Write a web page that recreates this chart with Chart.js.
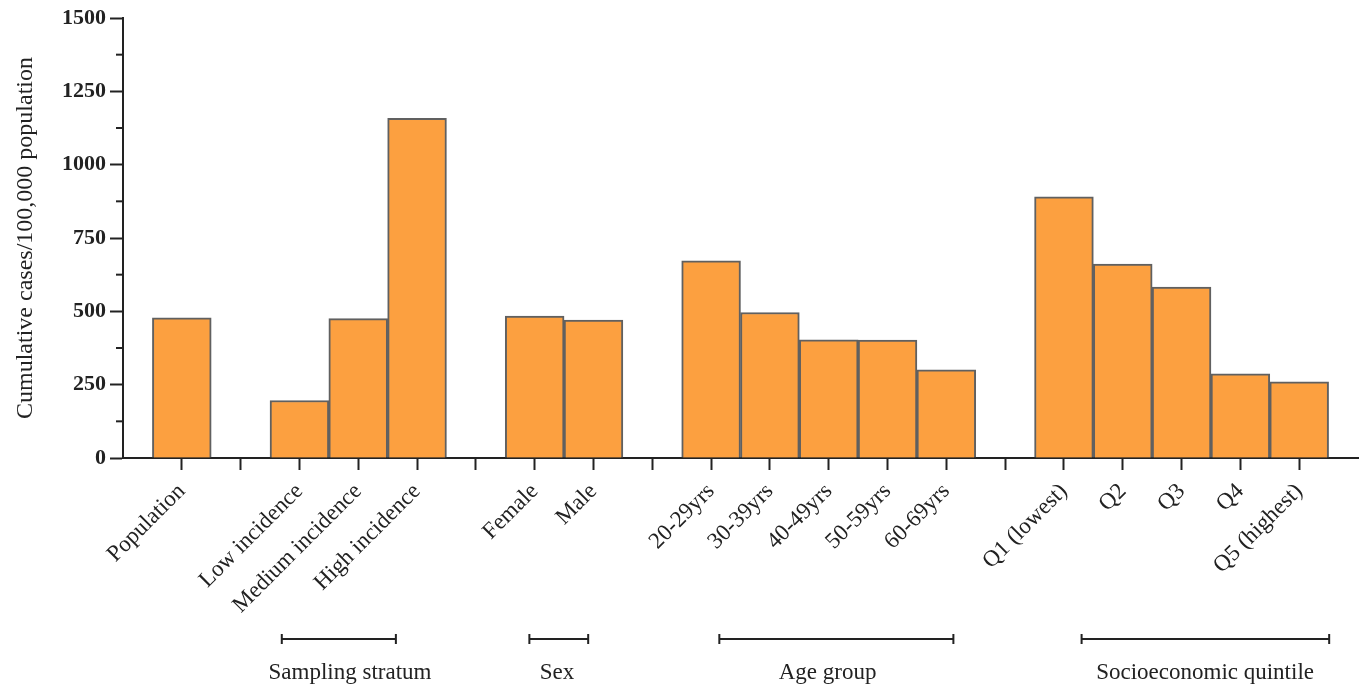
<!DOCTYPE html>
<html>
<head>
<meta charset="utf-8">
<script src="https://cdn.jsdelivr.net/npm/chart.js@4.4.1/dist/chart.umd.min.js"></script>
<style>
  html, body { margin: 0; padding: 0; background: #fff; }
  #wrap { width: 1363px; height: 687px; }
</style>
</head>
<body>
<div id="wrap"><canvas id="chart"></canvas></div>
<script>
// ---------- DATA ----------
const categories = ["Population", "", "Low incidence", "Medium incidence", "High incidence", "",
  "Female", "Male", "", "20-29yrs", "30-39yrs", "40-49yrs", "50-59yrs", "60-69yrs", "",
  "Q1 (lowest)", "Q2", "Q3", "Q4", "Q5 (highest)"];
const rates = [478, null, 196, 475, 1158, null, 484, 470, null, 672, 496, 403, 402, 301, null,
  890, 661, 583, 287, 260];
const yTicks = [0, 250, 500, 750, 1000, 1250, 1500];
const yMinorTicks = [125, 375, 625, 875, 1125, 1375];
const groupNames = ["Sampling stratum", "Sex", "Age group", "Socioeconomic quintile"];

// bracket [from, to, label centre] in slot units (layout only)
const groupSpans = [[1.70, 3.64, 2.86], [5.91, 6.91, 6.38], [9.14, 13.12, 10.98], [15.30, 19.51, 17.40]];

const serif = '"Liberation Serif", "Times New Roman", serif';
const ink = "#222";
Chart.defaults.font.family = serif;
Chart.defaults.color = ink;

// ---------- EXTRA MARKS ----------
const extras = {
  id: "extras",
  afterDraw(c) {
    const ctx = c.ctx, x = c.scales.x, y = c.scales.y;
    ctx.save();
    ctx.strokeStyle = ink;
    ctx.lineWidth = 2;
    // minor ticks on y axis
    yMinorTicks.forEach(v => {
      let py = y.getPixelForValue(v);
      ctx.beginPath();
      ctx.moveTo(x.left - 7, py);
      ctx.lineTo(x.left, py);
      ctx.stroke();
    });
    // group brackets
    ctx.font = "23px " + serif;
    ctx.fillStyle = ink;
    ctx.textAlign = "center";
    ctx.textBaseline = "middle";
    groupSpans.forEach((g, i) => {
      let x1 = x.getPixelForValue(g[0]), x2 = x.getPixelForValue(g[1]);
      let ly = 639;
      ctx.beginPath();
      ctx.moveTo(x1, ly); ctx.lineTo(x2, ly);
      ctx.moveTo(x1, ly - 5); ctx.lineTo(x1, ly + 5);
      ctx.moveTo(x2, ly - 5); ctx.lineTo(x2, ly + 5);
      ctx.stroke();
      ctx.fillText(groupNames[i], x.getPixelForValue(g[2]), 673);
    });
    ctx.restore();
  }
};

// ---------- CHART ----------
const points = [];
rates.forEach((v, i) => { if (v !== null) points.push({ x: i, y: v }); });

new Chart(document.getElementById("chart"), {
  type: "bar",
  data: {
    datasets: [{
      data: points,
      backgroundColor: "#FCA040",
      borderColor: "#606060",
      borderWidth: 2,
      barPercentage: 1,
      categoryPercentage: 1
    }]
  },
  options: {
    responsive: true,
    maintainAspectRatio: false,
    animation: false,
    layout: { padding: { top: 18, right: 5, bottom: 0, left: 0 } },
    plugins: { legend: { display: false }, tooltip: { enabled: false } },
    scales: {
      x: {
        type: "linear",
        offset: false,
        min: -1,
        max: 20,
        afterBuildTicks: s => { s.ticks = categories.map((c, i) => ({ value: i })); },
        afterFit: s => { s.height = 229; },
        grid: { drawOnChartArea: false, drawTicks: true, tickLength: 12, tickWidth: 2, tickColor: ink, offset: false },
        border: { color: ink, width: 2 },
        ticks: {
          autoSkip: false,
          maxRotation: 45,
          minRotation: 45,
          padding: 8,
          font: { size: 23 },
          color: ink,
          callback: v => categories[v] ?? ""
        }
      },
      y: {
        min: 0,
        max: 1500,
        afterBuildTicks: s => { s.ticks = yTicks.map(v => ({ value: v })); },
        afterFit: s => { s.width = 123; },
        grid: { drawOnChartArea: false, drawTicks: true, tickLength: 13, tickWidth: 2, tickColor: ink },
        border: { color: ink, width: 2 },
        ticks: { padding: 4, font: { size: 22, weight: "bold" }, color: ink, callback: v => String(v) },
        title: {
          display: true,
          text: "Cumulative cases/100,000 population",
          font: { size: 24 },
          color: ink,
          padding: { top: 11, bottom: 0 }
        }
      }
    }
  },
  plugins: [extras]
});
</script>
</body>
</html>
